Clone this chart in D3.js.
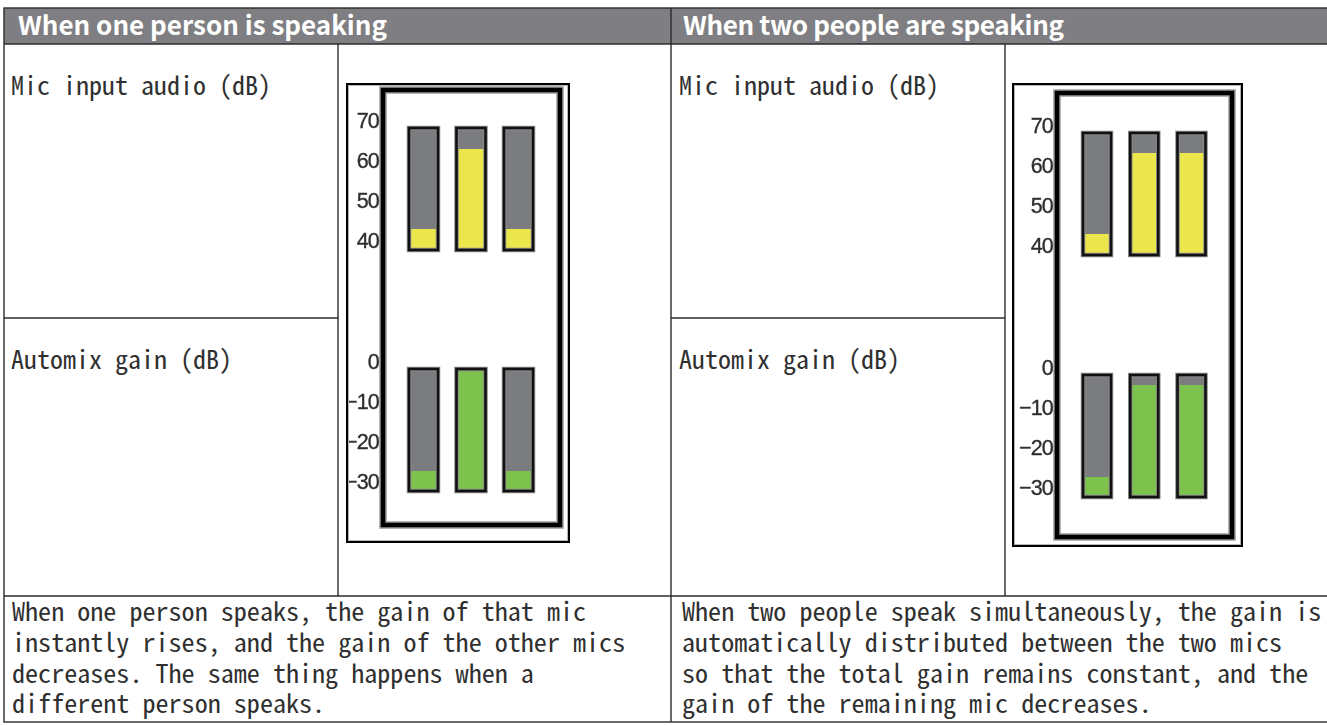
<!DOCTYPE html>
<html><head><meta charset="utf-8">
<script src="https://cdn.jsdelivr.net/npm/d3@7"></script>
<style>body{margin:0;background:#fff} svg{display:block}</style>
</head><body><svg id="c" width="1327" height="726"></svg>
<script>
// ---------- data ----------
const headers = ["When one person is speaking", "When two people are speaking"];
const rowLabels = ["Mic input audio (dB)", "Automix gain (dB)"];
const descLeft = ["When one person speaks, the gain of that mic",
  "instantly rises, and the gain of the other mics",
  "decreases. The same thing happens when a",
  "different person speaks."];
const descRight = ["When two people speak simultaneously, the gain is",
  "automatically distributed between the two mics",
  "so that the total gain remains constant, and the",
  "gain of the remaining mic decreases."];
const mics = ["Mic 1", "Mic 2", "Mic 3"];
const inputTicks = [70, 60, 50, 40];
const gainTicks = [0, -10, -20, -30];
const inputMeterRange = [37.5, 68];
const gainMeterRange = [-32.5, -2];
const oneInput = [42.75, 62.75, 42.75];
const oneGain = [-27.5, -2, -27.5];
const twoInput = [42.75, 63, 63];
const twoGain = [-27.5, -4.5, -4.5];

// ---------- layout ----------
const svg = d3.select("#c");
const T = {left: 4, split: 671, right: 1340, top: 8, head: 44, r1: 318, r2: 596, bottom: 722};
const labelDiv = [338, 1005];
const labelX = [11, 679];
const descX = [12, 682];
const headX = [18, 683];
const bodyFont = "'Noto Sans Mono CJK JP','Noto Sans CJK JP','DejaVu Sans Mono',monospace";
const headFont = "'Noto Sans CJK JP','Noto Sans',sans-serif";
const lineCol = "#2b2b2b";
const textCol = "#303030";

// header
svg.append("rect").attr("x", T.left).attr("y", T.top).attr("width", T.right - T.left).attr("height", T.head - T.top)
  .attr("fill", "#7f7f83");
headers.forEach((h, i) => {
  svg.append("text").attr("x", headX[i]).attr("y", T.top + 27).text(h)
    .attr("font-family", headFont).attr("font-weight", "bold").attr("font-size", 26)
    .attr("letter-spacing", i === 1 ? -0.35 : 0).attr("fill", "#fff");
});

// table lines
const g = svg.append("g").attr("stroke", lineCol).attr("stroke-width", 1.4).attr("fill", "none");
g.append("rect").attr("x", T.left).attr("y", T.top).attr("width", T.right - T.left).attr("height", T.bottom - T.top);
[T.head, T.r2].forEach(y => g.append("line").attr("x1", T.left).attr("x2", T.right).attr("y1", y).attr("y2", y));
g.append("line").attr("x1", T.split).attr("x2", T.split).attr("y1", T.top).attr("y2", T.bottom);
labelDiv.forEach((x, i) => {
  g.append("line").attr("x1", x).attr("x2", x).attr("y1", T.head).attr("y2", T.r2);
  const x0 = i === 0 ? T.left : T.split;
  g.append("line").attr("x1", x0).attr("x2", x).attr("y1", T.r1).attr("y2", T.r1);
});

// row labels
labelX.forEach((x, i) => {
  rowLabels.forEach((lab, j) => {
    svg.append("text").attr("x", x).attr("y", (j === 0 ? T.head : T.r1) + 51).text(lab)
      .attr("font-family", bodyFont).attr("font-size", 26).attr("fill", textCol);
  });
});

// descriptions: one text element per paragraph, one tspan per line
[descLeft, descRight].forEach((lines, i) => {
  svg.append("text").attr("font-family", bodyFont).attr("font-size", 26.1).attr("fill", textCol)
    .selectAll("tspan").data(lines).join("tspan")
    .attr("x", descX[i]).attr("y", (d, k) => 621 + k * 30.8).text(d => d);
});

// ---------- meters ----------
const panels = [
  {outer: [346, 83, 570, 543], inner: [383, 90, 560, 525], labelRight: 378,
   yIn: d3.scaleLinear().domain([40, 70]).range([240, 120]),
   yGain: d3.scaleLinear().domain([-30, 0]).range([481, 361]),
   x: d3.scalePoint().domain(mics).range([423.5, 518.5]), bw: 29,
   input: oneInput, gain: oneGain, id: "L"},
  {outer: [1012, 83, 1243, 547], inner: [1057, 93, 1232, 537], labelRight: 1052,
   yIn: d3.scaleLinear().domain([40, 70]).range([245, 125]),
   yGain: d3.scaleLinear().domain([-30, 0]).range([487, 367]),
   x: d3.scalePoint().domain(mics).range([1097, 1191.5]), bw: 28,
   input: twoInput, gain: twoGain, id: "R"}
];

const defs = svg.append("defs");
defs.append("filter").attr("id", "soft").append("feGaussianBlur").attr("stdDeviation", 0.45);

panels.forEach(p => {
  const [ox0, oy0, ox1, oy1] = p.outer;
  const [ix0, iy0, ix1, iy1] = p.inner;
  defs.append("clipPath").attr("id", "clip" + p.id).append("rect")
    .attr("x", ox0).attr("y", oy0).attr("width", ox1 - ox0).attr("height", oy1 - oy0);
  const m = svg.append("g").attr("clip-path", `url(#clip${p.id})`);
  m.append("rect").attr("x", ox0).attr("y", oy0).attr("width", ox1 - ox0).attr("height", oy1 - oy0).attr("fill", "#fff");
  // inner thick frame
  m.append("rect").attr("x", ix0).attr("y", iy0).attr("width", ix1 - ix0).attr("height", iy1 - iy0)
    .attr("fill", "none").attr("stroke", "#9a9a9a").attr("stroke-width", 7.5);
  m.append("rect").attr("x", ix0).attr("y", iy0).attr("width", ix1 - ix0).attr("height", iy1 - iy0)
    .attr("fill", "none").attr("stroke", "#000").attr("stroke-width", 4.5);

  // tick labels
  const lab = m.append("g").attr("font-family", "'Liberation Sans',Arial,sans-serif").attr("font-size", 21.5)
    .attr("fill", "#2e2e2e").attr("stroke", "#2e2e2e").attr("stroke-width", 0.35)
    .attr("text-anchor", "end").attr("letter-spacing", -0.8).attr("filter", "url(#soft)");
  lab.selectAll("text.in").data(inputTicks).join("text").attr("class", "in")
    .attr("x", p.labelRight + 1).attr("y", d => p.yIn(d) + 7.8).text(d => d);
  lab.selectAll("text.ga").data(gainTicks).join("text").attr("class", "ga")
    .attr("x", p.labelRight + 1).attr("y", d => p.yGain(d) + 7.8).text(d => d < 0 ? "\u2212" + Math.abs(d) : d);

  // bars
  const drawBars = (vals, y, range, col) => {
    const bg = m.append("g");
    mics.forEach((mic, k) => {
      const x = p.x(mic) - p.bw / 2;
      const yt = y(range[1]), yb = y(range[0]);
      bg.append("rect").attr("x", x).attr("y", yt).attr("width", p.bw).attr("height", yb - yt).attr("fill", "#7b7c80");
      const yv = y(vals[k]);
      bg.append("rect").attr("x", x).attr("y", yv).attr("width", p.bw).attr("height", yb - yv).attr("fill", col);
      bg.append("rect").attr("x", x).attr("y", yt).attr("width", p.bw).attr("height", yb - yt)
        .attr("fill", "none").attr("stroke", "#8a8a8a").attr("stroke-width", 4.5);
      bg.append("rect").attr("x", x).attr("y", yt).attr("width", p.bw).attr("height", yb - yt)
        .attr("fill", "none").attr("stroke", "#111").attr("stroke-width", 2.6);
    });
  };
  drawBars(p.input, p.yIn, inputMeterRange, "#ebe64b");
  drawBars(p.gain, p.yGain, gainMeterRange, "#7cc24d");

  // outer frame
  m.append("rect").attr("x", ox0 + 1).attr("y", oy0 + 1).attr("width", ox1 - ox0 - 2).attr("height", oy1 - oy0 - 2)
    .attr("fill", "none").attr("stroke", "#000").attr("stroke-width", 2);
  m.append("rect").attr("x", ox0 + 2.5).attr("y", oy0 + 2.5).attr("width", ox1 - ox0 - 5).attr("height", oy1 - oy0 - 5)
    .attr("fill", "none").attr("stroke", "#b5b5b5").attr("stroke-width", 1);
});
</script>
</body></html>
